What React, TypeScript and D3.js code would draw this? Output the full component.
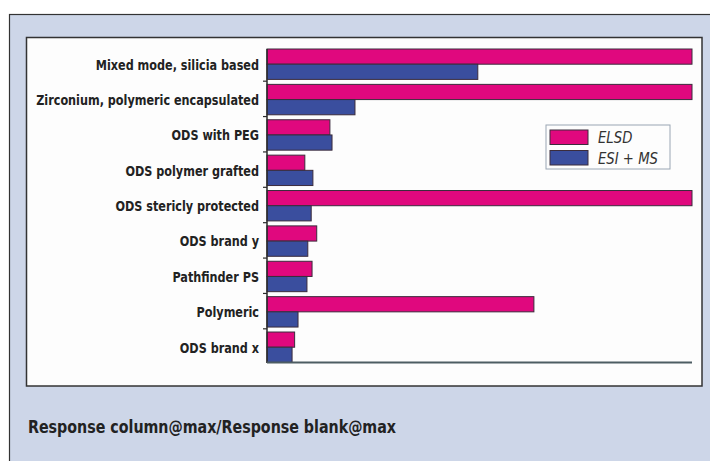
import React from "react";
import * as d3 from "d3";

const categories = [
  "Mixed mode, silicia based",
  "Zirconium, polymeric encapsulated",
  "ODS with PEG",
  "ODS polymer grafted",
  "ODS stericly protected",
  "ODS brand y",
  "Pathfinder PS",
  "Polymeric",
  "ODS brand x",
];
const seriesNames = ["ELSD", "ESI + MS"];
const elsdValues = [100, 100, 14.8, 8.9, 100, 11.7, 10.6, 62.8, 6.5];
const esiValues = [49.6, 20.7, 15.3, 10.8, 10.4, 9.6, 9.4, 7.3, 5.9];
const seriesColors = ["#E0087E", "#3A4E9E"];
const xTitle = "Response column@max/Response blank@max";

const W = 710;
const H = 461;

export default function App() {
  const x = d3.scaleLinear().domain([0, 100]).range([267, 692]).clamp(true);
  const y = d3.scaleBand<string>().domain(categories).range([45.8, 364.2]);
  const sub = d3.scaleBand<string>().domain(seriesNames).range([3.2, 33.6]);
  const series = [elsdValues, esiValues];
  const boundaries = categories.slice(1).map((c) => y(c) as number);
  const font = "'DejaVu Sans Condensed', 'DejaVu Sans', sans-serif";

  return (
    <svg
      width={W}
      height={H}
      style={{ position: "absolute", left: 0, top: 0, background: "#fff" }}
    >
      <rect x={9.5} y={14.5} width={W + 10} height={H + 10} fill="#CDD6E8" stroke="#333" strokeWidth={1.2} />
      <rect x={26.5} y={37.5} width={675.5} height={348.5} fill="#fdfdfd" stroke="#333" strokeWidth={1.5} />

      {categories.map((c, i) =>
        series.map((vals, s) => {
          const v = vals[i];
          const by = (y(c) as number) + (sub(seriesNames[s]) as number);
          return (
            <rect
              key={c + s}
              x={x(0)}
              y={by}
              width={x(v) - x(0)}
              height={sub.bandwidth()}
              fill={seriesColors[s]}
              stroke="#3b2c3c"
              strokeWidth={1}
            />
          );
        })
      )}

      <line x1={x(0)} x2={x(0)} y1={49} y2={363} stroke="#2a2a2a" strokeWidth={1.5} />
      <line x1={x(0)} x2={x(100)} y1={362.5} y2={362.5} stroke="#4d5d63" strokeWidth={1.8} />
      {boundaries.map((b, i) => (
        <line key={i} x1={x(0) - 4} x2={x(0)} y1={b} y2={b} stroke="#2a2a2a" strokeWidth={1.2} />
      ))}

      {categories.map((c) => (
        <g key={c} transform={`translate(259,${(y(c) as number) + 18.4}) scale(0.85,1)`}>
          <text
            x={0}
            y={0}
            dy="0.36em"
            textAnchor="end"
            fontFamily={font}
            fontWeight="bold"
            fontSize={14.7}
            fill="#222"
          >
            {c}
          </text>
        </g>
      ))}

      <g>
        <rect x={546} y={125} width={124} height={44} fill="#fdfdfd" stroke="#9aa6b4" strokeWidth={1} />
        {seriesNames.map((n, s) => (
          <g key={n}>
            <rect
              x={550}
              y={130 + s * 20.5}
              width={38}
              height={14.5}
              fill={seriesColors[s]}
              stroke="#3b2c3c"
              strokeWidth={1}
            />
            <g transform={`translate(598,${137.5 + s * 20.5}) scale(0.92,1)`}>
              <text
                x={0}
                y={0}
                dy="0.36em"
                fontFamily={font}
                fontStyle="italic"
                fontSize={16}
                fill="#333"
              >
                {n}
              </text>
            </g>
          </g>
        ))}
      </g>

      <g transform="translate(28,433) scale(0.88,1)">
        <text x={0} y={0} fontFamily={font} fontWeight="bold" fontSize={18} fill="#222">
          {xTitle}
        </text>
      </g>
    </svg>
  );
}
